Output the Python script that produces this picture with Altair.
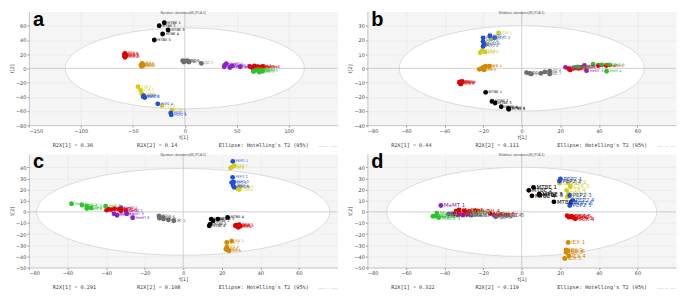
import altair as alt
import numpy as np
import pandas as pd

# ---------------- data ----------------
GROUPS = ["MTBE", "SCX", "IEX", "C18", "PEP2", "QC", "MeMT", "MeOH", "MeIS"]
COLORS = ["#000000", "#dd0000", "#d48a00", "#d4cc1a", "#1f4fd8", "#6e6e6e", "#8a22c8", "#e00000", "#2cc42c"]
COLORS_B = ["#000000", "#dd0000", "#d48a00", "#d4cc1a", "#1f4fd8", "#6e6e6e", "#8a22c8", "#e00000", "#2e8b57"]

# panel a
A_MTBE = [(-19.7, 64.3), (-24.6, 60), (-16, 54), (-21.3, 48.5), (-29.3, 40)]
A_SCX = [(-57.5, 21), (-57, 19), (-58, 17), (-57.5, 15.5), (-56.5, 18), (-58, 20)]
A_IEX = [(-41, 7), (-42, 5), (-40, 4), (-41.5, 3), (-40.5, 6), (-42, 4.5)]
A_C18 = [(-45, -26), (-42.5, -31), (-41.5, -35.5), (-40, -38), (-22, -52.5), (-12, -58.5)]
A_PEP2 = [(-39.5, -38.5), (-38.5, -41), (-40, -40), (-26, -50), (-13.5, -63), (-13, -65.5)]
A_QC = [(-2, 11), (0, 10), (2, 11), (4, 9), (-1, 9), (3, 10), (16, 7)]
A_MeMT = [(40, 6.6), (38, 2.2), (45.6, 3.5), (43.4, 1.3), (53.3, 2.2), (38.5, 4.4)]
A_MeOH = [(62.5, 2.6), (67, 3.5), (70, 2.2), (73, 1.3), (65, 0.9), (75, 2.6)]
A_MeIS = [(68, -3), (71.8, -5.3), (75, -4), (70, -0.9), (66, -4.4), (73, -2)]

# panel b
B_MTBE = [(-18.7, -16.9), (-15.4, -23.3), (-13.8, -24.4), (-10.6, -27.1), (-6.8, -28.2), (-6.7, -28.9)]
B_SCX = [(-31.7, -9.5), (-31.3, -10.2), (-32, -10.6), (-30.9, -9.3), (-32.3, -9.8), (-31.5, -11)]
B_IEX = [(-21, -0.2), (-20, 0.7), (-18.7, 1.6), (-16.7, 1.6), (-22, -0.7), (-19.5, -1.1)]
B_C18 = [(-12, 25), (-16, 21), (-18, 17), (-20.5, 12.5), (-21.5, 11), (-19, 11.5)]
B_PEP2 = [(-16.5, 23), (-20, 21.5), (-14, 21.5), (-20, 19), (-20, 15.5), (-19.5, 17)]
B_QC = [(2.5, -3), (4, -3.5), (5, -4), (10, -3.5), (12, -2.5), (14.5, -2), (14.5, -4)]
B_MeMT = [(22.7, 0.7), (26.8, 0), (28.4, 0.7), (32.5, 2), (33.6, -1.6), (24.8, -0.7)]
B_MeOH = [(24.4, -0.2), (25.2, -1.1), (30.7, 0.7), (39.8, 2), (43.9, 2), (29.5, 0.2)]
B_MeIS = [(37, 3), (41.5, 2.5), (45.5, 2.5), (44, -2), (27, 0.5), (29, 1)]

# panel c
C_MTBE = [(14.5, -6.5), (15.5, -8), (18, -6.5), (23, -5), (14, -11), (13.5, -12.5)]
C_SCX = [(28, -13), (29, -11.5), (27.5, -12), (28.5, -14), (29.5, -13), (27, -12.5)]
C_IEX = [(25.1, -26.3), (22.6, -27.6), (22.6, -31.7), (23.1, -34.4), (23.8, -35), (22.1, -33.6)]
C_C18 = [(25, 40), (26.5, 41.5), (29.5, 22.5), (29, 20), (28, 21), (24.5, 39.5)]
C_PEP2 = [(25.7, 45.4), (25.6, 31), (26.1, 26.9), (25.9, 23.6), (26.4, 22), (25.1, 26.3)]
C_QC = [(-12.6, -3.7), (-12.3, -5.8), (-10.2, -6.4), (-7.7, -7.2), (-4.9, -8), (-10.5, -5)]
C_MeMT = [(-32.3, 3.7), (-29.8, 1), (-29.3, -1.7), (-34.3, -3.1), (-35.9, -1.7), (-26.2, -5.3)]
C_MeOH = [(-38.9, 2.4), (-39.7, 1.5), (-35.6, 2.9), (-33.1, 2.4), (-32.3, 1), (-37.5, 2)]
C_MeIS = [(-57.9, 7.3), (-52.5, 6.2), (-50, 5.1), (-50, 2.9), (-47.7, 3.5), (-40.2, 5.1)]

# panel d
D_MTBE = [(6.1, 22), (3.7, 19.3), (9.1, 16), (5.3, 14.4), (9.4, 15), (16.7, 9)]
D_SCX = [(23.6, -3.5), (25.2, -4.4), (26.9, -5.2), (27.8, -6.3), (26, -4.1), (24.5, -4.8)]
D_IEX = [(24.1, -27.5), (23, -34.3), (23, -36.4), (24.4, -39.7), (22.3, -41.9), (24, -35)]
D_C18 = [(19.6, 25.6), (23.9, 26.4), (25.2, 22.8), (23.3, 19.3), (24.4, 16), (23.6, 13.3)]
D_PEP2 = [(20.1, 29.6), (19.6, 27.7), (24.9, 14.7), (26.4, 10.6), (24.9, 5.7), (25.6, 7.9)]
D_QC = [(-14.4, -3), (-12.8, -3.5), (-10.8, -2.4), (-8.3, -3), (-7.1, -3), (-13.5, -4.5)]
D_MeMT = [(-41.9, 5.7), (-37.9, -2.2), (-35.8, -2.2), (-33, -3), (-30.6, -3), (-26.2, -3)]
D_MeOH = [(-32.5, 1.6), (-29.6, 0.8), (-35, -2.2), (-24.1, 1.1), (-16.3, -1.6), (-34, 0.5)]
D_MeIS = [(-44, -1.1), (-44.7, -3.8), (-43, -5.2), (-27.3, -0.3), (-28.5, -2.5), (-46, -4)]

R2X = {"a": (0.36, 0.14), "b": (0.44, 0.111), "c": (0.291, 0.108), "d": (0.322, 0.119)}
ELLIPSE = {"a": (115, 57), "b": (63.5, 30), "c": (76, 39), "d": (70, 40)}
TITLES = {"a": "Mycobact. abundance(M) (PCA-X)", "b": "Bifidobact. abundance(M) (PCA-X)",
          "c": "Mycobact. abundance(M) (PCA-X)", "d": "Bifidobact. abundance(M) (PCA-X)"}

W, H = 310, 114


def panel(letter, groups, colors, xdom, xticks, ydom, yticks, label_size):
    rows = []
    for g, arr in zip(GROUPS, groups):
        for i, (x, y) in enumerate(arr):
            rows.append({"g": g, "x": x, "y": y, "lab": f"{g} {i + 1}"})
    df = pd.DataFrame(rows)

    ea, eb = ELLIPSE[letter]
    t = np.linspace(0, np.pi, 181)
    edf = pd.DataFrame({"x": ea * np.cos(t), "y": eb * np.sin(t), "y2": -eb * np.sin(t)})

    xs = alt.Scale(domain=xdom, nice=False, zero=False)
    ys = alt.Scale(domain=ydom, nice=False, zero=False)
    xax = alt.Axis(values=xticks, title="t[1]", grid=True)
    yax = alt.Axis(values=yticks, title="t[2]", grid=True)
    X = alt.X("x:Q", scale=xs, axis=xax)
    Y = alt.Y("y:Q", scale=ys, axis=yax)
    cscale = alt.Scale(domain=GROUPS, range=colors)

    ell = alt.Chart(edf).mark_area(fill="white", stroke="#d2d2d2", strokeWidth=0.8).encode(
        x=X, y=Y, y2="y2:Q")
    zx = alt.Chart(pd.DataFrame({"x": [0]})).mark_rule(color="#c6c6c6", strokeWidth=0.8).encode(x=X)
    zy = alt.Chart(pd.DataFrame({"y": [0]})).mark_rule(color="#c6c6c6", strokeWidth=0.8).encode(y=Y)
    pts = alt.Chart(df).mark_circle(size=24, opacity=1).encode(
        x=X, y=Y, color=alt.Color("g:N", scale=cscale, legend=None))
    labs = alt.Chart(df).mark_text(align="left", baseline="middle", dx=3, fontSize=label_size,
                                   font="DejaVu Sans").encode(
        x=X, y=Y, text="lab:N", color=alt.Color("g:N", scale=cscale, legend=None))

    r1, r2 = R2X[letter]
    foot = pd.DataFrame({
        "t": [f"R2X[1] = {r1}", f"R2X[2] = {r2}", "Ellipse: Hotelling's T2 (95%)"],
        "px": [0.077 * W, 0.35 * W, 0.615 * W],
    })
    footer = alt.Chart(foot).mark_text(align="left", baseline="middle", fontSize=5.2,
                                       font="DejaVu Sans Mono", color="#333333").encode(
        x=alt.X("px:Q", scale=None), y=alt.value(H + 20), text="t:N")
    wm = alt.Chart(pd.DataFrame({"t": ["SIMCA 14 - 2017"]})).mark_text(
        align="right", baseline="middle", fontSize=2.5, color="#c4c4c4").encode(
        x=alt.value(W), y=alt.value(H + 21), text="t:N")
    let = alt.Chart(pd.DataFrame({"t": [letter]})).mark_text(
        align="left", baseline="alphabetic", fontSize=20, fontWeight="bold",
        font="Liberation Sans", color="black").encode(
        x=alt.value(4), y=alt.value(14), text="t:N")
    ttl = alt.Chart(pd.DataFrame({"t": [TITLES[letter]]})).mark_text(
        align="center", baseline="top", fontSize=3, color="#555555").encode(
        x=alt.value(W / 2), y=alt.value(0.5), text="t:N")

    return alt.layer(ell, zx, zy, pts, labs, footer, wm, let, ttl).properties(width=W, height=H)


pa = panel("a", [A_MTBE, A_SCX, A_IEX, A_C18, A_PEP2, A_QC, A_MeMT, A_MeOH, A_MeIS], COLORS,
           [-150, 147], [-150, -100, -50, 0, 50, 100], [-80, 80], list(range(-80, 61, 20)), 3.6)
pb = panel("b", [B_MTBE, B_SCX, B_IEX, B_C18, B_PEP2, B_QC, B_MeMT, B_MeOH, B_MeIS], COLORS_B,
           [-80, 80], list(range(-80, 61, 20)), [-40, 40], list(range(-40, 31, 10)), 3.6)
pc = panel("c", [C_MTBE, C_SCX, C_IEX, C_C18, C_PEP2, C_QC, C_MeMT, C_MeOH, C_MeIS], COLORS,
           [-80, 80], list(range(-80, 61, 20)), [-50, 52], list(range(-50, 41, 10)), 3.6)
pd_ = panel("d", [D_MTBE, D_SCX, D_IEX, D_C18, D_PEP2, D_QC, D_MeMT, D_MeOH, D_MeIS], COLORS,
            [-80, 80], list(range(-80, 61, 20)), [-50, 52], list(range(-50, 41, 10)), 5.5)

chart = alt.vconcat(
    alt.hconcat(pa, pb, spacing=8),
    alt.hconcat(pc, pd_, spacing=8),
    spacing=2,
).properties(
    padding={"left": 0, "top": 0, "right": 0, "bottom": 0}
).configure_view(
    fill="#f5f5f5", stroke="transparent"
).configure_axis(
    labelFontSize=5, labelColor="#444444", labelFont="DejaVu Sans", labelPadding=1,
    tickSize=2, tickColor="#999999", domainColor="#aaaaaa", domainWidth=0.6,
    gridColor="#e4e4e4", gridWidth=0.5,
    titleFontSize=5, titleFontWeight="normal", titleColor="#444444", titlePadding=1,
    titleFont="DejaVu Sans",
)

chart.save("out.html", embed_options={"renderer": "svg", "actions": False})
